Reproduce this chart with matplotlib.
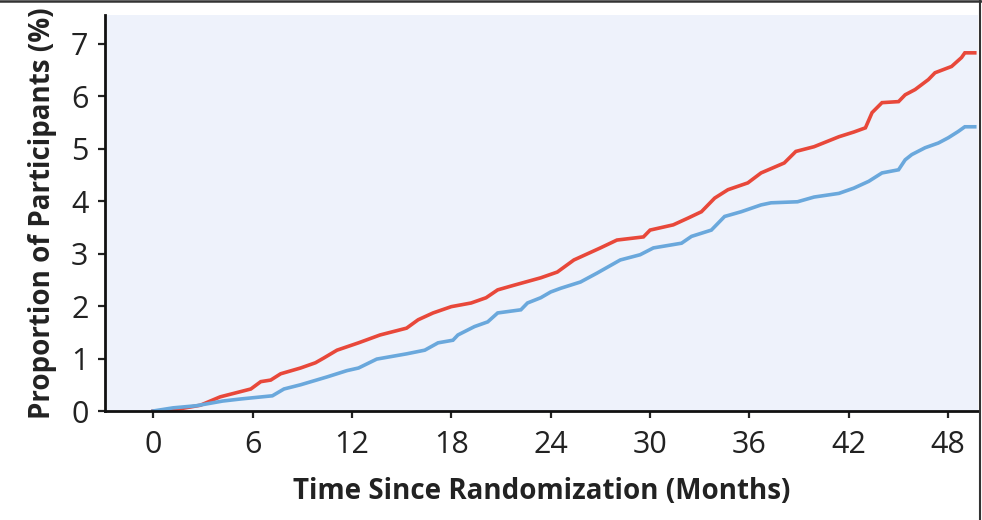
import matplotlib
matplotlib.use("Agg")
import matplotlib.pyplot as plt
from matplotlib.lines import Line2D

# points (months, % of participants)
red_t = [0, 0.85, 2.85, 4.05, 5.9, 6.5, 7.1, 7.7, 8.9, 9.8, 10.3, 11.1, 12.4,
         13.7, 15.3, 16.0, 16.9, 18.0, 19.2, 20.1, 20.8, 21.8, 23.4, 24.4,
         25.4, 27.0, 28.0, 29.6, 30.0, 31.4, 32.3, 33.1, 33.9, 34.7, 35.9,
         36.7, 38.1, 38.8, 39.9, 41.4, 42.3, 43.0, 43.4, 44.0, 45.0, 45.4,
         46.0, 46.8, 47.2, 48.2, 48.8, 49.0, 49.6]
red_v = [0, 0.0, 0.11, 0.27, 0.42, 0.56, 0.59, 0.71, 0.82, 0.92, 1.01, 1.16, 1.30,
         1.45, 1.58, 1.74, 1.87, 1.99, 2.06, 2.16, 2.31, 2.40, 2.54, 2.65,
         2.88, 3.11, 3.26, 3.32, 3.45, 3.55, 3.68, 3.80, 4.06, 4.22, 4.35,
         4.54, 4.73, 4.95, 5.04, 5.23, 5.32, 5.40, 5.69, 5.88, 5.90, 6.03,
         6.13, 6.32, 6.45, 6.57, 6.74, 6.83, 6.83]

blue_t = [0, 1.2, 2.6, 4.2, 5.3, 7.2, 7.9, 8.9, 10.5, 11.7, 12.4, 13.5, 15.3,
          16.4, 17.2, 18.1, 18.4, 19.4, 20.2, 20.8, 22.2, 22.6, 23.4, 24.0,
          24.6, 25.8, 26.8, 28.2, 29.4, 30.2, 31.9, 32.5, 33.7, 34.5, 35.5,
          36.7, 37.3, 38.9, 39.9, 41.4, 42.3, 43.2, 44.0, 45.0, 45.4, 45.8,
          46.6, 47.4, 48.0, 48.6, 49.0, 49.6]
blue_v = [0, 0.06, 0.10, 0.19, 0.23, 0.29, 0.42, 0.50, 0.65, 0.77, 0.82, 0.99, 1.09,
          1.16, 1.30, 1.35, 1.45, 1.61, 1.70, 1.87, 1.93, 2.06, 2.16, 2.27,
          2.34, 2.46, 2.63, 2.88, 2.98, 3.11, 3.20, 3.33, 3.45, 3.71, 3.80,
          3.93, 3.97, 3.99, 4.08, 4.15, 4.25, 4.38, 4.54, 4.60, 4.79, 4.89,
          5.02, 5.11, 5.21, 5.33, 5.42, 5.42]

x_ticks = [0, 6, 12, 18, 24, 30, 36, 42, 48]
y_ticks = [0, 1, 2, 3, 4, 5, 6, 7]

plt.rcParams["font.family"] = ["Open Sans", "DejaVu Sans"]

fig = plt.figure(figsize=(9.82, 5.2), dpi=100)
ax = fig.add_axes([0.107, 0.2096, 0.889, 0.7614])
ax.set_facecolor("#eef2fb")

ax.plot(red_t, red_v, color="#e8483a", lw=2.6, solid_joinstyle="miter")
ax.plot(blue_t, blue_v, color="#6aa8dc", lw=2.6, solid_joinstyle="miter")

ax.set_xlim(-2.9, 49.8)
ax.set_ylim(0, 7.55)
ax.set_xticks(x_ticks)
ax.set_yticks(y_ticks)
ax.tick_params(labelsize=22, length=5, width=1.6, color="#222222",
               labelcolor="#222222")
ax.tick_params(axis="x", pad=9)
ax.tick_params(axis="y", pad=7)

for side in ["top", "right"]:
    ax.spines[side].set_visible(False)
for side in ["left", "bottom"]:
    ax.spines[side].set_linewidth(2.0)
    ax.spines[side].set_color("#111111")

ax.set_xlabel("Time Since Randomization (Months)", fontsize=20,
              fontweight="bold", color="#222222", labelpad=12)
ax.set_ylabel("Proportion of Participants (%)", fontsize=20,
              fontweight="bold", color="#222222", labelpad=10)

# frame lines at top and right of the panel
fig.add_artist(Line2D([0, 1], [0.998, 0.998], color="#333333", lw=1.8,
                      transform=fig.transFigure))
fig.add_artist(Line2D([0.998, 0.998], [0, 1], color="#333333", lw=1.5,
                      transform=fig.transFigure))

fig.savefig("out.png", dpi=100)
